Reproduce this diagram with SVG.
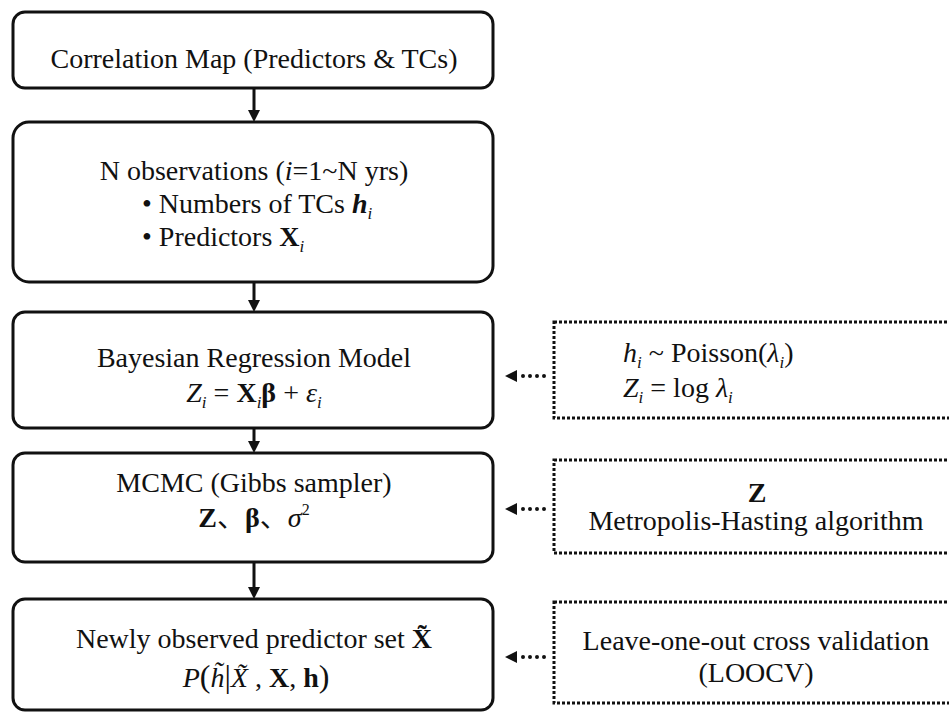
<svg xmlns="http://www.w3.org/2000/svg" width="949" height="713" viewBox="0 0 949 713">
<style>
text{font-family:"Liberation Serif","Noto Sans CJK SC",serif;font-size:28px;fill:#111}
.c{text-anchor:middle}
.i{font-style:italic}
.b{font-weight:bold}
.sub{font-size:17px;font-style:italic}
.box{fill:#fff;stroke:#111;stroke-width:3}
.dbox{fill:#fff;stroke:#111;stroke-width:3;stroke-dasharray:3 2}
.ln{stroke:#111;stroke-width:3;fill:none}
.dl{stroke:#111;stroke-width:4;stroke-linecap:round;stroke-dasharray:0 7;fill:none}
</style>
<rect width="949" height="713" fill="#fff"/>
<g id="connectors">
<line class="ln" x1="254" y1="88" x2="254" y2="112"/><polygon points="248,110 260,110 254,122" fill="#111"/>
<line class="ln" x1="254" y1="282" x2="254" y2="302"/><polygon points="248,300 260,300 254,312" fill="#111"/>
<line class="ln" x1="254" y1="428" x2="254" y2="443"/><polygon points="248,441 260,441 254,453" fill="#111"/>
<line class="ln" x1="254" y1="562" x2="254" y2="589"/><polygon points="248,587 260,587 254,599" fill="#111"/>
<line class="dl" x1="523" y1="376" x2="551" y2="376"/><polygon points="505,376 517,370 517,382" fill="#111"/>
<line class="dl" x1="523" y1="509" x2="551" y2="509"/><polygon points="505,509 517,503 517,515" fill="#111"/>
<line class="dl" x1="523" y1="657" x2="551" y2="657"/><polygon points="505,657 517,651 517,663" fill="#111"/>
</g>
<g id="n1">
<rect class="box" x="13" y="12" width="480" height="76" rx="12"/>
<text class="c" x="254" y="68">Correlation Map (Predictors &amp; TCs)</text>
</g>
<g id="n2">
<rect class="box" x="13" y="122" width="480" height="160" rx="16"/>
<text class="c" x="254" y="180">N observations (<tspan class="i">i</tspan>=1~N yrs)</text>
<text x="142" y="213">• Numbers of TCs <tspan class="i b">h</tspan><tspan class="sub" dy="6">i</tspan></text>
<text x="142" y="246">• Predictors <tspan class="b">X</tspan><tspan class="sub" dy="6">i</tspan></text>
</g>
<g id="n3">
<rect class="box" x="13" y="312" width="480" height="116" rx="12"/>
<text class="c" x="254" y="367">Bayesian Regression Model</text>
<text class="c" x="254" y="402"><tspan class="i">Z</tspan><tspan class="sub" dy="6">i</tspan><tspan dy="-6"> = </tspan><tspan class="b">X</tspan><tspan class="sub" dy="6">i</tspan><tspan class="b" dy="-6">β</tspan><tspan> + </tspan><tspan class="i">ε</tspan><tspan class="sub" dy="6">i</tspan></text>
</g>
<g id="n4">
<rect class="box" x="13" y="453" width="480" height="109" rx="12"/>
<text class="c" x="254" y="492">MCMC (Gibbs sampler)</text>
<text class="c" x="254" y="527"><tspan class="b">Z</tspan>、<tspan class="b">β</tspan>、<tspan class="i">σ</tspan><tspan font-size="16" dy="-12">2</tspan></text>
</g>
<g id="n5">
<rect class="box" x="13" y="599" width="480" height="111" rx="12"/>
<text class="c" x="254" y="648">Newly observed predictor set  <tspan class="b">X̃</tspan></text>
<text class="c" x="256" y="687"><tspan class="i">P</tspan><tspan font-size="32">(</tspan><tspan class="i">h̃</tspan><tspan font-size="32">|</tspan><tspan class="i">X̃</tspan> , <tspan class="b">X</tspan>, <tspan class="b">h</tspan><tspan font-size="32">)</tspan></text>
</g>
<g id="n6">
<rect class="dbox" x="554" y="322" width="420" height="96"/>
<text x="623" y="362"><tspan class="i">h</tspan><tspan class="sub" dy="6">i</tspan><tspan dy="-6"> ~ Poisson(</tspan><tspan class="i">λ</tspan><tspan class="sub" dy="6">i</tspan><tspan dy="-6">)</tspan></text>
<text x="623" y="397"><tspan class="i">Z</tspan><tspan class="sub" dy="6">i</tspan><tspan dy="-6"> = log </tspan><tspan class="i">λ</tspan><tspan class="sub" dy="6">i</tspan></text>
</g>
<g id="n7">
<rect class="dbox" x="554" y="460" width="420" height="93"/>
<text class="c b" x="757" y="502">Z</text>
<text class="c" x="756" y="530">Metropolis-Hasting algorithm</text>
</g>
<g id="n8">
<rect class="dbox" x="554" y="602" width="420" height="101"/>
<text class="c" x="756" y="650">Leave-one-out cross validation</text>
<text class="c" x="756" y="682">(LOOCV)</text>
</g>
</svg>
